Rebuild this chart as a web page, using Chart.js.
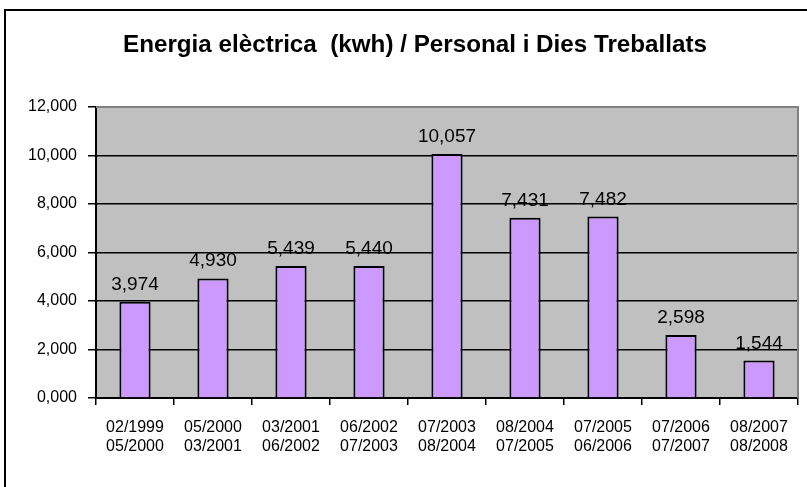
<!DOCTYPE html>
<html>
<head>
<meta charset="utf-8">
<script src="https://cdn.jsdelivr.net/npm/chart.js@4.4.0/dist/chart.umd.min.js"></script>
<style>
html,body{margin:0;padding:0;background:#fff;}
#wrap{width:807px;height:487px;position:relative;}
</style>
</head>
<body>
<div id="wrap"><canvas id="c" width="807" height="487"></canvas></div>
<script>
const titleText = 'Energia elèctrica  (kwh) / Personal i Dies Treballats';
const categories = [
  ['02/1999','05/2000'],
  ['05/2000','03/2001'],
  ['03/2001','06/2002'],
  ['06/2002','07/2003'],
  ['07/2003','08/2004'],
  ['08/2004','07/2005'],
  ['07/2005','06/2006'],
  ['07/2006','07/2007'],
  ['08/2007','08/2008']
];
const values = [3974, 4930, 5439, 5440, 10057, 7431, 7482, 2598, 1544];
const yTicks = [0, 2000, 4000, 6000, 8000, 10000, 12000];

function fmt(v){
  const t = Math.floor(v/1000), r = Math.round(v%1000);
  return t + ',' + String(r).padStart(3,'0');
}

const deco = {
  id:'deco',
  beforeDraw(chart){
    const {ctx, chartArea:a} = chart;
    ctx.save();
    ctx.fillStyle='#fff';
    ctx.fillRect(0,0,chart.width,chart.height);
    ctx.strokeStyle='#000';
    ctx.lineWidth=2;
    ctx.strokeRect(5,10,chart.width+20,chart.height+20);
    ctx.fillStyle='#C0C0C0';
    ctx.fillRect(a.left,a.top,a.right-a.left,a.bottom-a.top);
    ctx.restore();
  },
  afterDraw(chart){
    const {ctx, chartArea:a} = chart;
    ctx.save();
    ctx.strokeStyle='#808080';
    ctx.lineWidth=2;
    ctx.beginPath();
    ctx.moveTo(a.left,a.top);
    ctx.lineTo(a.right,a.top);
    ctx.lineTo(a.right,a.bottom);
    ctx.stroke();
    ctx.fillStyle='#000';
    ctx.font='bold 24px Arial, "Liberation Sans", sans-serif';
    ctx.textBaseline='alphabetic';
    const w = ctx.measureText(titleText).width;
    const target = 584;
    ctx.translate(123,52);
    ctx.scale(target/w,1);
    ctx.fillText(titleText,0,0);
    ctx.restore();
    ctx.save();
    const meta = chart.getDatasetMeta(0);
    ctx.font='19px Arial, "Liberation Sans", sans-serif';
    ctx.fillStyle='#000';
    ctx.textAlign='center';
    ctx.textBaseline='alphabetic';
    meta.data.forEach((bar,i)=>{
      ctx.fillText(fmt(values[i]), bar.x, bar.y-12);
    });
    ctx.restore();
  }
};

new Chart(document.getElementById('c'),{
  type:'bar',
  data:{
    labels:categories,
    datasets:[{
      data:values,
      backgroundColor:'#CC99FF',
      borderColor:'#000',
      borderWidth:2,
      categoryPercentage:1,
      barPercentage:0.4
    }]
  },
  options:{
    responsive:false,
    animation:false,
    devicePixelRatio:1,
    layout:{padding:{top:107,right:9,bottom:0,left:0}},
    plugins:{legend:{display:false},title:{display:false},tooltip:{enabled:false}},
    scales:{
      x:{
        offset:true,
        grid:{offset:true,drawOnChartArea:false,drawTicks:true,tickLength:7,color:'#000',lineWidth:1.5},
        border:{display:true,color:'#000',width:2},
        ticks:{color:'#000',font:{family:'Arial, "Liberation Sans", sans-serif',size:16},padding:13,maxRotation:0,autoSkip:false},
        afterFit(s){s.height=89;}
      },
      y:{
        min:0,max:12000,
        afterBuildTicks(s){s.ticks=yTicks.map(v=>({value:v}));},
        grid:{color:'#000',lineWidth:1.5,drawTicks:true,tickLength:8},
        border:{display:true,color:'#000',width:2},
        ticks:{color:'#000',font:{family:'Arial, "Liberation Sans", sans-serif',size:16},padding:11,
          callback:(v)=>fmt(v)},
        afterFit(s){s.width=96;}
      }
    }
  },
  plugins:[deco]
});
</script>
</body>
</html>
